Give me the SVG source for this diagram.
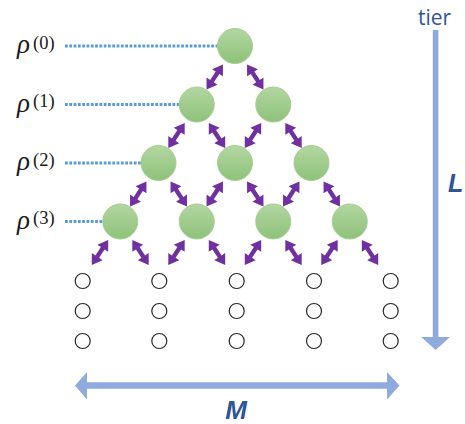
<svg xmlns="http://www.w3.org/2000/svg" xmlns:xlink="http://www.w3.org/1999/xlink" width="465" height="424" viewBox="0 0 465 424">
  <defs>
    <linearGradient id="gg" x1="0" y1="0" x2="0" y2="1">
      <stop offset="0" stop-color="#b3d6a1"/>
      <stop offset="1" stop-color="#8ec27a"/>
    </linearGradient>
    <path id="dbl" d="M0,0 L10,-6.5 L10,-2.2 L20,-2.2 L20,-6.5 L30,0 L20,6.5 L20,2.2 L10,2.2 L10,6.5 Z"/>
    <style>
      .node { fill: url(#gg); stroke: #a5cf90; stroke-width: 1; }
      .small { fill: #ffffff; stroke: #262626; stroke-width: 1.2; }
      .dot { stroke: #5b9bd5; stroke-width: 3; stroke-dasharray: 2.8 1.5; fill: none; }
      .arr { fill: #7030a0; }
      .rho { font-family: "Liberation Serif", "DejaVu Serif", serif; font-style: italic; font-size: 27px; fill: #1a1a1a; }
      .sup { font-family: "Liberation Serif", "DejaVu Serif", serif; font-style: normal; font-size: 18.5px; fill: #1a1a1a; }
      .tier { font-family: "Open Sans", "Liberation Sans", sans-serif; font-size: 21px; fill: #2f5597; }
      .big { font-family: "Liberation Sans", Arial, sans-serif; font-weight: bold; font-style: italic; fill: #2f5597; }
      .blue { fill: #8faadc; }
    </style>
  </defs>
  <rect width="465" height="424" fill="#ffffff"/>

  <g id="labels">
    <text class="rho" x="17" y="53">ρ</text><text class="sup" x="33" y="48.5">(0)</text>
    <text class="rho" x="17" y="111.5">ρ</text><text class="sup" x="33" y="107">(1)</text>
    <text class="rho" x="17" y="170">ρ</text><text class="sup" x="33" y="165.5">(2)</text>
    <text class="rho" x="17" y="228.5">ρ</text><text class="sup" x="33" y="224">(3)</text>
  </g>

  <g id="dotted-lines">
    <line class="dot" x1="65" y1="46" x2="218" y2="46"/>
    <line class="dot" x1="65" y1="104.5" x2="180" y2="104.5"/>
    <line class="dot" x1="65" y1="163" x2="142" y2="163"/>
    <line class="dot" x1="65" y1="221.5" x2="103" y2="221.5"/>
  </g>

  <g id="connectors" class="arr">
    <use xlink:href="#dbl" transform="translate(222.96,64.41) rotate(123.2)"/>
    <use xlink:href="#dbl" transform="translate(247.04,64.41) rotate(56.8)"/>
    <use xlink:href="#dbl" transform="translate(184.71,122.91) rotate(123.2)"/>
    <use xlink:href="#dbl" transform="translate(208.79,122.91) rotate(56.8)"/>
    <use xlink:href="#dbl" transform="translate(261.21,122.91) rotate(123.2)"/>
    <use xlink:href="#dbl" transform="translate(285.29,122.91) rotate(56.8)"/>
    <use xlink:href="#dbl" transform="translate(146.46,181.41) rotate(123.2)"/>
    <use xlink:href="#dbl" transform="translate(170.54,181.41) rotate(56.8)"/>
    <use xlink:href="#dbl" transform="translate(222.96,181.41) rotate(123.2)"/>
    <use xlink:href="#dbl" transform="translate(247.04,181.41) rotate(56.8)"/>
    <use xlink:href="#dbl" transform="translate(299.46,181.41) rotate(123.2)"/>
    <use xlink:href="#dbl" transform="translate(323.54,181.41) rotate(56.8)"/>
    <use xlink:href="#dbl" transform="translate(108.21,239.91) rotate(123.2)"/>
    <use xlink:href="#dbl" transform="translate(132.29,239.91) rotate(56.8)"/>
    <use xlink:href="#dbl" transform="translate(184.71,239.91) rotate(123.2)"/>
    <use xlink:href="#dbl" transform="translate(208.79,239.91) rotate(56.8)"/>
    <use xlink:href="#dbl" transform="translate(261.21,239.91) rotate(123.2)"/>
    <use xlink:href="#dbl" transform="translate(285.29,239.91) rotate(56.8)"/>
    <use xlink:href="#dbl" transform="translate(337.71,239.91) rotate(123.2)"/>
    <use xlink:href="#dbl" transform="translate(361.79,239.91) rotate(56.8)"/>
  </g>

  <g id="n0"><circle class="node" cx="235" cy="46" r="17.5"/></g>
  <g id="n1a"><circle class="node" cx="196.75" cy="104.5" r="17.5"/></g>
  <g id="n1b"><circle class="node" cx="273.25" cy="104.5" r="17.5"/></g>
  <g id="n2a"><circle class="node" cx="158.5" cy="163" r="17.5"/></g>
  <g id="n2b"><circle class="node" cx="235" cy="163" r="17.5"/></g>
  <g id="n2c"><circle class="node" cx="311.5" cy="163" r="17.5"/></g>
  <g id="n3a"><circle class="node" cx="120.25" cy="221.5" r="17.5"/></g>
  <g id="n3b"><circle class="node" cx="196.75" cy="221.5" r="17.5"/></g>
  <g id="n3c"><circle class="node" cx="273.25" cy="221.5" r="17.5"/></g>
  <g id="n3d"><circle class="node" cx="349.75" cy="221.5" r="17.5"/></g>

  <g id="small-nodes">
    <circle class="small" cx="82.7" cy="281" r="7.5"/>
    <circle class="small" cx="159.3" cy="281" r="7.5"/>
    <circle class="small" cx="236.7" cy="281" r="7.5"/>
    <circle class="small" cx="314" cy="281" r="7.5"/>
    <circle class="small" cx="390.7" cy="281" r="7.5"/>
    <circle class="small" cx="82.7" cy="311" r="7.5"/>
    <circle class="small" cx="159.3" cy="311" r="7.5"/>
    <circle class="small" cx="236.7" cy="311" r="7.5"/>
    <circle class="small" cx="314" cy="311" r="7.5"/>
    <circle class="small" cx="390.7" cy="311" r="7.5"/>
    <circle class="small" cx="82.7" cy="341" r="7.5"/>
    <circle class="small" cx="159.3" cy="341" r="7.5"/>
    <circle class="small" cx="236.7" cy="341" r="7.5"/>
    <circle class="small" cx="314" cy="341" r="7.5"/>
    <circle class="small" cx="390.7" cy="341" r="7.5"/>
  </g>

  <g id="tier-axis">
    <text class="tier" x="418" y="25">tier</text>
    <path class="blue" d="M432.8,30 L438.4,30 L438.4,337 L450,337 L435.6,350 L421.2,337 L432.8,337 Z"/>
    <text class="big" x="448" y="192" font-size="25">L</text>
  </g>

  <g id="m-axis">
    <path class="blue" d="M75,385.5 L87,372 L87,382.3 L387,382.3 L387,372 L399.5,385.5 L387,399.5 L387,388.7 L87,388.7 L87,399.5 Z"/>
    <text class="big" x="236" y="419" font-size="26" text-anchor="middle">M</text>
  </g>
</svg>
